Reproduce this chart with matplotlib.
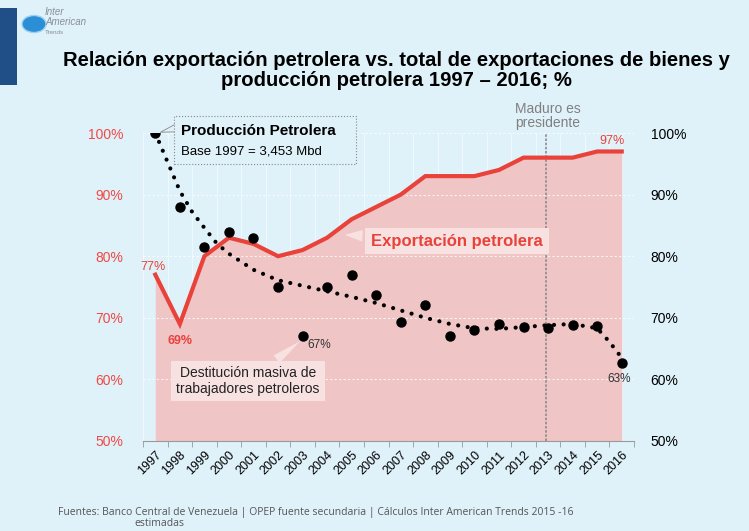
import matplotlib
matplotlib.use("Agg")
import matplotlib.pyplot as plt
from matplotlib.patches import Rectangle, Circle

plt.rcParams['font.family'] = ['Liberation Sans', 'DejaVu Sans']

years = list(range(1997, 2017))
exportacion = [77, 69, 80, 83, 82, 80, 81, 83, 86, 88, 90, 93, 93, 93, 94, 96, 96, 96, 97, 97]
produccion = [100, 88, 81.5, 84, 83, 75, 67, 75, 77, 73.7, 69.3, 72, 67, 68, 69, 68.5, 68.3, 68.8, 68.6, 62.7]
trend_x = [1997, 1997.5, 1998, 1998.5, 1999, 1999.5, 2000, 2001, 2002, 2003, 2004, 2005, 2006,
           2007, 2008, 2009, 2010, 2011, 2012, 2013, 2014, 2015, 2015.5, 2016]
trend_y = [100, 95.3, 90.6, 87.2, 84.6, 82.1, 80.4, 77.8, 76.1, 75.2, 74.3, 73.4, 72.4,
           71.2, 70.0, 69.0, 68.3, 68.2, 68.5, 68.8, 69.0, 68.3, 66.1, 63.5]
y_ticks = [50, 60, 70, 80, 90, 100]
maduro_year = 2013

BG = '#dff1f9'
RED = '#e8423a'
FILL = '#efc5c5'
BOX = '#f8e1e1'

W, H = 749, 531
fig = plt.figure(figsize=(W / 100, H / 100), dpi=100, facecolor=BG)


def px(x, y):
    return x / W, 1 - y / H


# decoration top-left
fig.patches.append(Rectangle(px(0, 85), 17 / W, 77 / H, transform=fig.transFigure,
                             fc='#1f4f86', ec='none'))
fig.patches.append(Circle(px(34, 24), 12 / W, transform=fig.transFigure, fc='#2a8fd6', ec='#9fd0f0'))
fig.text(*px(45, 17), 'Inter\nAmerican', fontsize=7, style='italic', color='#8a8f99',
         va='center', linespacing=0.9)
fig.text(*px(45, 33), 'Trends', fontsize=4.5, color='#8a8f99', va='center')

fig.text(*px(396, 60), 'Relación exportación petrolera vs. total de exportaciones de bienes y',
         fontsize=14.6, fontweight='bold', ha='center', va='center')
fig.text(*px(396, 81), 'producción petrolera 1997 – 2016; %',
         fontsize=14.6, fontweight='bold', ha='center', va='center')

ax = fig.add_axes([143 / W, 1 - 441 / H, 491 / W, 308 / H])
ax.set_facecolor(BG)
ax.set_xlim(1996.5, 2016.5)
ax.set_ylim(50, 100)

ax.fill_between(years, exportacion, 50, color=FILL, lw=0, zorder=1)
for y in y_ticks[1:]:
    ax.axhline(y, color='white', lw=0.8, ls=(0, (2, 2)), alpha=0.8, zorder=1.5)
for x in years + [2016.5]:
    ax.axvline(x - 0.5, color='white', lw=0.6, alpha=0.6, zorder=0.5)
ax.plot(years, exportacion, color=RED, lw=3, solid_joinstyle='miter', zorder=3)
ax.axvline(maduro_year - 0.1, ymax=1.0, color='#8c8c8c', lw=1.2, ls=(0, (1.5, 1)), zorder=2)

ax.plot(trend_x, trend_y, color='black', lw=3, ls=(0, (0.01, 2.3)), dash_capstyle='round', zorder=4)
ax.plot(years, produccion, 'o', color='black', ms=6.5, zorder=5)

ax.set_xticks(years)
ax.set_xticklabels([str(y) for y in years], rotation=45, ha='right', rotation_mode='anchor', fontsize=9)
ax.set_xticks([y - 0.5 for y in years] + [2016.5], minor=True)
ax.tick_params(axis='x', which='major', length=0, pad=6)
ax.tick_params(axis='x', which='minor', length=4, color='#999999', direction='out')
ax.set_yticks(y_ticks)
ax.set_yticklabels([f'{v}%' for v in y_ticks], color='#f04a45', fontsize=10)
ax.tick_params(axis='y', length=0, pad=14)
for s in ['top', 'left', 'right']:
    ax.spines[s].set_visible(False)
ax.spines['bottom'].set_color('#999999')

ax2 = ax.twinx()
ax2.set_ylim(50, 100)
ax2.set_yticks(y_ticks)
ax2.set_yticklabels([f'{v}%' for v in y_ticks], fontsize=10)
ax2.tick_params(axis='y', length=0, pad=12)
for s in ax2.spines.values():
    s.set_visible(False)
ax.set_zorder(ax2.get_zorder() + 1)
ax.patch.set_visible(True)

# value labels
ax.text(1996.9, 78.2, '77%', color=RED, fontsize=9, ha='center', va='center')
ax.text(1998.0, 66.3, '69%', color=RED, fontsize=9, fontweight='bold', ha='center', va='center')
ax.text(2015.6, 98.7, '97%', color=RED, fontsize=9, ha='center', va='center')
ax.text(2003.2, 65.6, '67%', color='#333333', fontsize=8.5, ha='left', va='center')
ax.text(2015.9, 60.1, '63%', color='#333333', fontsize=8.5, ha='center', va='center')
fig.text(*px(548, 116), 'Maduro es\npresidente', color='#808080', fontsize=10, ha='center',
         va='center', linespacing=1.0)

# callout: Producción Petrolera
ax.annotate('', xy=(1997.1, 100), xytext=px(180, 127), textcoords='figure fraction',
            arrowprops=dict(arrowstyle='wedge,tail_width=0.6', fc=BG, ec='#888888', lw=0.6),
            annotation_clip=False, zorder=6)
ax.add_patch(Rectangle(px(174, 164), 182 / W, 48 / H, transform=fig.transFigure,
                       fc=BG, ec='#888888', lw=0.8, ls=':', zorder=6.5, clip_on=False))
ax.text(*px(181, 131), 'Producción Petrolera', transform=fig.transFigure, fontsize=11,
        fontweight='bold', ha='left', va='center', zorder=7)
ax.text(*px(181, 151), 'Base 1997 = 3,453 Mbd', transform=fig.transFigure, fontsize=9.5,
        ha='left', va='center', zorder=7)

ax.annotate('Exportación petrolera', xy=(2004.6, 83.5), xytext=px(457, 241),
            textcoords='figure fraction', color=RED, fontsize=12, fontweight='bold',
            ha='center', va='center', zorder=6,
            bbox=dict(boxstyle='square,pad=0.35', fc=BOX, ec='none'),
            arrowprops=dict(arrowstyle='wedge,tail_width=0.7', fc=BOX, ec='none'))

ax.annotate('Destitución masiva de\ntrabajadores petroleros', xy=(2003.0, 66.5),
            xytext=px(248, 381), textcoords='figure fraction', color='#222222',
            fontsize=10, ha='center', va='center', zorder=6, linespacing=1.1,
            bbox=dict(boxstyle='square,pad=0.4', fc=BOX, ec='none'),
            arrowprops=dict(arrowstyle='wedge,tail_width=0.7', fc=BOX, ec='none'))

fig.text(*px(58, 513), 'Fuentes: Banco Central de Venezuela | OPEP fuente secundaria | '
         'Cálculos Inter American Trends 2015 -16', family='Open Sans', fontsize=7.5,
         color='#555555', va='center')
fig.text(*px(134, 524), 'estimadas', family='Open Sans', fontsize=7.5, color='#555555', va='center')

fig.savefig('out.png', dpi=100, facecolor=BG)
